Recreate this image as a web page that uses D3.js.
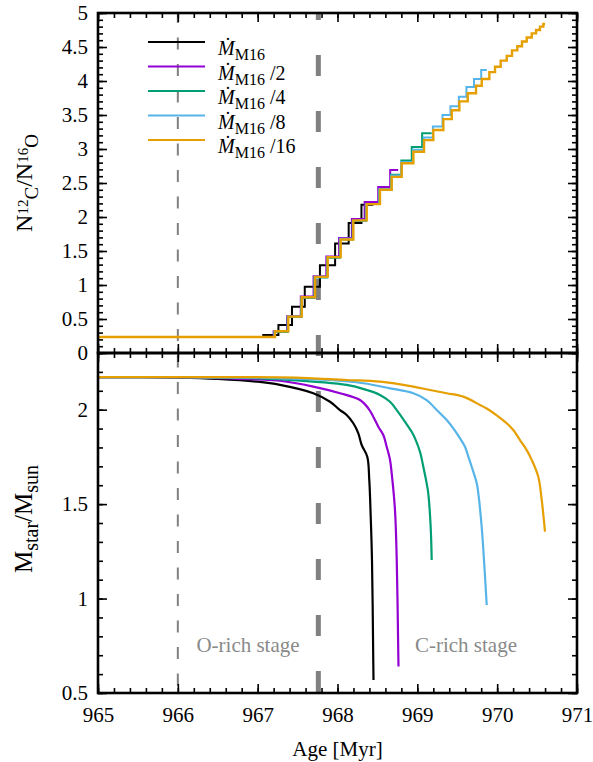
<!DOCTYPE html>
<html>
<head>
<meta charset="utf-8">
<script src="https://cdn.jsdelivr.net/npm/d3@7"></script>
<style>
  body { margin: 0; background: #fff; }
  svg { display: block; }
  svg text { font-family: "Liberation Serif", "Times New Roman", "DejaVu Serif", Times, serif; }
</style>
</head>
<body>
<svg id="chart" width="593" height="762"></svg>
<script>
// ---- series definitions ----
const seriesKeys = ["m1", "m2", "m4", "m8", "m16"];
const seriesSuffix = ["", " /2", " /4", " /8", " /16"];
const seriesColors = ["#000000", "#9400d3", "#009e73", "#56b4e9", "#e69f00"];

// ---- tick values ----
const ageTicks = [965, 966, 967, 968, 969, 970, 971];
const ratioTicks = [0, 0.5, 1, 1.5, 2, 2.5, 3, 3.5, 4, 4.5, 5];
const massTicks = [0.5, 1, 1.5, 2];

// ---- stage markers (Myr) ----
const oRichStart = 966.0;
const cRichStart = 967.76;

// ---- C/O number ratio, staircase: [age of jump, value after jump], last point = end of run ----
const ratioM1 = [[965, 0.235], [967.07, 0.265], [967.26, 0.41], [967.43, 0.68], [967.59, 0.975],
  [967.78, 1.29], [967.97, 1.61], [968.14, 1.91], [968.30, 2.18], [968.45, 2.18]];
const ratioM2 = [[965, 0.235], [967.20, 0.32], [967.37, 0.54], [967.54, 0.83], [967.70, 1.13],
  [967.86, 1.42], [968.02, 1.69], [968.18, 1.97], [968.34, 2.22], [968.51, 2.44], [968.66, 2.69],
  [968.76, 2.69]];
const ratioM4 = [[965, 0.235], [967.21, 0.31], [967.375, 0.53], [967.545, 0.81], [967.71, 1.11],
  [967.87, 1.40], [968.03, 1.67], [968.19, 1.94], [968.355, 2.19], [968.52, 2.40], [968.67, 2.62],
  [968.80, 2.83], [968.93, 3.03], [969.06, 3.23], [969.18, 3.23]];
const ratioM8 = [[965, 0.235], [967.21, 0.32], [967.38, 0.535], [967.55, 0.82], [967.715, 1.12],
  [967.875, 1.41], [968.035, 1.68], [968.195, 1.95], [968.36, 2.19], [968.525, 2.41], [968.675, 2.61],
  [968.80, 2.81], [968.945, 2.99], [969.08, 3.17], [969.195, 3.33], [969.315, 3.50], [969.415, 3.63],
  [969.52, 3.77], [969.615, 3.91], [969.71, 4.03], [969.80, 4.16], [969.87, 4.16]];
const ratioM16 = [[965, 0.235], [967.217, 0.32], [967.384, 0.535], [967.552, 0.82], [967.718, 1.12],
  [967.877, 1.41], [968.04, 1.67], [968.198, 1.95], [968.366, 2.19], [968.532, 2.40], [968.679, 2.59],
  [968.804, 2.79], [968.95, 2.96], [969.084, 3.13], [969.20, 3.28], [969.326, 3.44], [969.431, 3.57],
  [969.526, 3.70], [969.631, 3.82], [969.735, 3.93], [969.807, 4.03], [969.902, 4.13], [969.973, 4.21],
  [970.044, 4.30], [970.12, 4.37], [970.186, 4.45], [970.252, 4.51], [970.311, 4.58], [970.37, 4.64],
  [970.433, 4.70], [970.487, 4.75], [970.536, 4.80], [970.578, 4.84], [970.60, 4.84]];

// ---- stellar mass [age, M/Msun] ----
const massM1 = [[965, 2.172], [965.5, 2.172], [966.0, 2.170], [966.5, 2.163], [967.0, 2.148],
  [967.28, 2.131], [967.697, 2.087], [967.906, 2.042], [968.031, 1.998], [968.115, 1.972],
  [968.198, 1.928], [968.261, 1.875], [968.303, 1.813], [968.373, 1.751], [968.398, 1.628],
  [968.416, 1.433], [968.432, 1.204], [968.448, 0.675], [968.451, 0.569]];
const massM2 = [[965, 2.172], [966.0, 2.171], [966.5, 2.167], [967.0, 2.160], [967.28, 2.153],
  [967.697, 2.122], [968.031, 2.087], [968.282, 2.051], [968.386, 2.007], [968.448, 1.963],
  [968.511, 1.910], [968.574, 1.866], [968.616, 1.804], [968.658, 1.734], [968.679, 1.663],
  [968.720, 1.469], [968.742, 1.204], [968.762, 0.692], [968.764, 0.640]];
const massM4 = [[965, 2.172], [966.0, 2.172], [967.0, 2.166], [967.28, 2.161], [968.115, 2.131],
  [968.366, 2.104], [968.532, 2.078], [968.658, 2.042], [968.742, 1.998], [968.846, 1.936],
  [968.929, 1.883], [968.971, 1.848], [969.033, 1.777], [969.075, 1.698], [969.117, 1.610],
  [969.137, 1.557], [969.167, 1.380], [969.180, 1.204]];
const massM8 = [[965, 2.172], [966.0, 2.172], [967.0, 2.169], [967.28, 2.166], [967.906, 2.157],
  [968.323, 2.140], [968.658, 2.113], [968.950, 2.087], [969.117, 2.051], [969.243, 1.998],
  [969.368, 1.945], [969.451, 1.901], [969.535, 1.848], [969.597, 1.804], [969.639, 1.751],
  [969.681, 1.698], [969.744, 1.610], [969.764, 1.557], [969.806, 1.380], [969.835, 1.204],
  [969.869, 0.966]];
const massM16 = [[965, 2.172], [966.5, 2.172], [967.28, 2.171], [967.693, 2.166], [968.115, 2.157],
  [968.532, 2.148], [968.950, 2.122], [969.159, 2.104], [969.368, 2.087], [969.576, 2.069],
  [969.785, 2.025], [969.869, 2.006], [969.994, 1.970], [970.119, 1.928], [970.202, 1.892],
  [970.286, 1.839], [970.370, 1.786], [970.433, 1.734], [970.515, 1.645], [970.558, 1.522],
  [970.599, 1.354]];

const ratioSeries = [ratioM1, ratioM2, ratioM4, ratioM8, ratioM16];
const massSeries = [massM1, massM2, massM4, massM8, massM16];

// ---- layout ----
const left = 98, right = 577;
const topY0 = 13, topY1 = 353, botY1 = 693;

const svg = d3.select("#chart");

const x = d3.scaleLinear().domain([965, 971]).range([left, right]);
const yRatio = d3.scaleLinear().domain([0, 5]).range([topY1, topY0]);
const yMass = d3.scaleLinear().domain([0.5, 2.3]).range([botY1, topY1]);

const ageMinor = d3.range(965, 971.001, 0.2).map(v => +v.toFixed(2));
const ratioMinor = d3.range(0, 5.001, 0.1).map(v => +v.toFixed(2));
const massMinor = d3.range(0.5, 2.3001, 0.1).map(v => +v.toFixed(2));

// clip regions
const defs = svg.append("defs");
defs.append("clipPath").attr("id", "clipTop").append("rect")
  .attr("x", left).attr("y", topY0).attr("width", right - left).attr("height", topY1 - topY0);
defs.append("clipPath").attr("id", "clipBot").append("rect")
  .attr("x", left).attr("y", topY1).attr("width", right - left).attr("height", botY1 - topY1);

// ---- stage separators ----
svg.append("line")
  .attr("x1", x(oRichStart)).attr("x2", x(oRichStart))
  .attr("y1", topY0).attr("y2", botY1)
  .attr("stroke", "#808080").attr("stroke-width", 2)
  .attr("stroke-dasharray", "12,14.5").attr("stroke-dashoffset", 2);
svg.append("line")
  .attr("x1", x(cRichStart)).attr("x2", x(cRichStart))
  .attr("y1", topY0).attr("y2", botY1)
  .attr("stroke", "#808080").attr("stroke-width", 5)
  .attr("stroke-dasharray", "21,35").attr("stroke-dashoffset", 14);

// ---- stage labels ----
svg.append("text").attr("x", 248).attr("y", 652).attr("text-anchor", "middle")
  .attr("font-size", 21).attr("fill", "#8a8a8a").text("O-rich stage");
svg.append("text").attr("x", 466).attr("y", 652).attr("text-anchor", "middle")
  .attr("font-size", 21).attr("fill", "#8a8a8a").text("C-rich stage");

// ---- top panel: C/O staircase ----
const stepLine = d3.line().x(d => x(d[0])).y(d => yRatio(d[1])).curve(d3.curveStepAfter);
const gTop = svg.append("g").attr("clip-path", "url(#clipTop)");
ratioSeries.forEach((s, i) => {
  gTop.append("path").attr("d", stepLine(s)).attr("fill", "none")
    .attr("stroke", seriesColors[i]).attr("stroke-width", i === 4 ? 2.4 : 2)
    .attr("stroke-linejoin", "miter");
});

// ---- bottom panel: stellar mass ----
const massLine = d3.line().x(d => x(d[0])).y(d => yMass(d[1])).curve(d3.curveCatmullRom.alpha(0.5));
const gBot = svg.append("g").attr("clip-path", "url(#clipBot)");
massSeries.forEach((s, i) => {
  gBot.append("path").attr("d", massLine(s)).attr("fill", "none")
    .attr("stroke", seriesColors[i]).attr("stroke-width", 2.2);
});

// ---- axes (inward ticks on all four sides of both panels) ----
function styleAxis(g) {
  g.select(".domain").remove();
  g.attr("font-family", null).attr("font-size", 21);
  g.selectAll(".tick line").attr("stroke", "#000").attr("stroke-width", 1.6);
  g.selectAll(".tick text").attr("fill", "#000");
}
function ticksOn(axisGen, scale, transform, major, minor, labels, pad) {
  const gMin = svg.append("g").attr("transform", transform)
    .call(axisGen(scale).tickValues(minor).tickSize(-5).tickFormat(""));
  styleAxis(gMin);
  const gMaj = svg.append("g").attr("transform", transform)
    .call(axisGen(scale).tickValues(major).tickSize(-9).tickPadding(pad || 10)
      .tickFormat(labels ? (d => String(d)) : ""));
  styleAxis(gMaj);
}

// top panel
ticksOn(d3.axisLeft, yRatio, `translate(${left},0)`, ratioTicks, ratioMinor, true, 10);
ticksOn(d3.axisRight, yRatio, `translate(${right},0)`, ratioTicks, ratioMinor, false);
ticksOn(d3.axisTop, x, `translate(0,${topY0})`, ageTicks, ageMinor, false);
ticksOn(d3.axisBottom, x, `translate(0,${topY1})`, ageTicks, ageMinor, false);
// bottom panel
ticksOn(d3.axisLeft, yMass, `translate(${left},0)`, massTicks, massMinor, true, 10);
ticksOn(d3.axisRight, yMass, `translate(${right},0)`, massTicks, massMinor, false);
// shared border: bottom panel's top edge with ticks pointing down
ticksOn(d3.axisTop, x, `translate(0,${topY1})`, ageTicks, ageMinor, false);
// bottom edge with the age labels
ticksOn(d3.axisBottom, x, `translate(0,${botY1})`, ageTicks, ageMinor, true, 14);

// ---- panel frames ----
svg.append("rect").attr("x", left).attr("y", topY0).attr("width", right - left).attr("height", topY1 - topY0)
  .attr("fill", "none").attr("stroke", "#000").attr("stroke-width", 2.6);
svg.append("rect").attr("x", left).attr("y", topY1).attr("width", right - left).attr("height", botY1 - topY1)
  .attr("fill", "none").attr("stroke", "#000").attr("stroke-width", 2.6);

// ---- legend ----
const legendY = [42, 66.5, 91, 115.5, 140];
seriesKeys.forEach((k, i) => {
  const ly = legendY[i];
  svg.append("line").attr("x1", 148).attr("x2", 205).attr("y1", ly).attr("y2", ly)
    .attr("stroke", seriesColors[i]).attr("stroke-width", 2);
  const t = svg.append("text").attr("x", 218).attr("y", ly + 13).attr("font-size", 20).attr("fill", "#000");
  t.append("tspan").attr("font-style", "italic").text("\u1E40");
  t.append("tspan").attr("font-size", 16).attr("dy", 5).text("M16");
  t.append("tspan").attr("dy", -5).text(seriesSuffix[i]);
});

// ---- axis titles ----
const yl1 = svg.append("text").attr("transform", `translate(32,183) rotate(-90)`)
  .attr("text-anchor", "middle").attr("font-size", 24).attr("fill", "#000");
yl1.append("tspan").text("N");
yl1.append("tspan").attr("font-size", 15).attr("dy", -4).text("12");
yl1.append("tspan").attr("font-size", 19).attr("dy", 10).text("C");
yl1.append("tspan").attr("dy", -6).text("/N");
yl1.append("tspan").attr("font-size", 15).attr("dy", -4).text("16");
yl1.append("tspan").attr("font-size", 19).attr("dy", 10).text("O");

const yl2 = svg.append("text").attr("transform", `translate(32,519) rotate(-90)`)
  .attr("text-anchor", "middle").attr("font-size", 25).attr("fill", "#000");
yl2.append("tspan").text("M");
yl2.append("tspan").attr("font-size", 20).attr("dy", 6).text("star");
yl2.append("tspan").attr("dy", -6).text("/M");
yl2.append("tspan").attr("font-size", 20).attr("dy", 6).text("sun");

svg.append("text").attr("x", (left + right) / 2).attr("y", 756).attr("text-anchor", "middle")
  .attr("font-size", 21).attr("fill", "#000").text("Age [Myr]");
</script>
</body>
</html>
